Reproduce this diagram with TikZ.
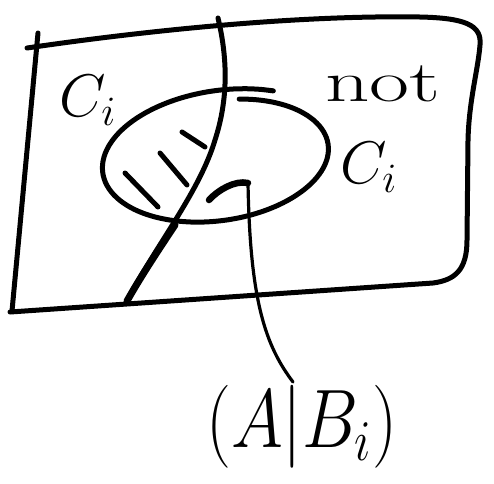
\documentclass[tikz,border=0pt]{standalone}
\begin{document}
\begin{tikzpicture}[x=1pt,y=-1pt,
  ink/.style={line width=5pt, line cap=round, line join=round},
  bigtxt/.style={inner sep=0pt, font=\fontsize{20}{20}\selectfont, scale=2.9}]
\useasboundingbox (0,0) rectangle (494,483);
% frame
\draw[ink] (27,48) .. controls (150,30) and (300,15) .. (420,17)
  .. controls (465,18) and (482,25) .. (480,45)
  .. controls (478,70) and (469,100) .. (468,140) -- (467,240)
  .. controls (467,270) and (455,280) .. (433,283) -- (10,312);
\draw[ink] (38,33) -- (12,311);
% divider
\draw[ink] (218,18) .. controls (228,60) and (228,100) .. (215,140)
  .. controls (200,190) and (160,240) .. (127,300);
\draw[ink, line width=7pt] (175,225) .. controls (155,255) and (140,278) .. (127,301);
% ellipse with overshoot
\begin{scope}[shift={(220,158)}, rotate=8]
  \draw[ink] plot[smooth, domain=-75:300, samples=60]
    ({(0.93+0.17*(\x+75)/375)*113*cos(\x)}, {(0.93+0.17*(\x+75)/375)*62*sin(\x)});
\end{scope}
% hatching
\draw[ink] (125,173) -- (158,207);
\draw[ink] (160,153) -- (187,185);
\draw[ink] (182,132) -- (205,147);
% labels
\node[bigtxt] (ci) at (88,100) {$C_i$};
\node[bigtxt, xscale=1.5] (nt) at (383,84) {not};
\node[bigtxt] (nci) at (369,167) {$C_i$};
\node[inner sep=0pt, font=\fontsize{20}{20}\selectfont, xscale=3.4, yscale=4] (lab) at (302,427) {$(A|B_i)$};
% arrow
\coordinate (tail) at (293,382);
\coordinate (tip) at (248,183);
\draw[line width=3.2pt, line cap=round] (tail) .. controls (265,345) and (250,300) .. (tip);
\draw[ink, line width=6.5pt] (209,200) .. controls (218,190) and (235,180) .. (tip);
\end{tikzpicture}
\end{document}
